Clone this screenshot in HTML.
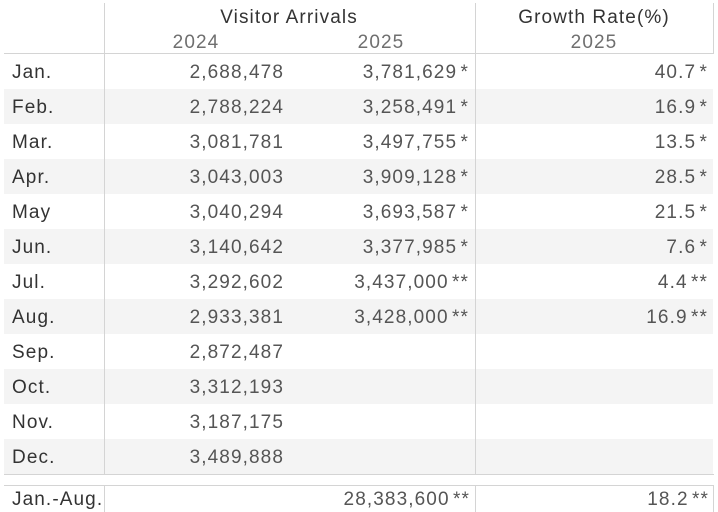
<!DOCTYPE html>
<html><head><meta charset="utf-8"><style>
html,body{margin:0;padding:0;background:#fff;}
body{width:718px;height:512px;position:relative;overflow:hidden;font-family:"Liberation Sans",Arial,sans-serif;}
.t{position:absolute;font-size:19px;line-height:19px;white-space:nowrap;letter-spacing:1.1px;}
.m{color:#333;left:12px;}
.n{color:#555;text-align:right;word-spacing:-3px;}
.h{color:#333;text-align:center;}
.y{color:#6f6f6f;text-align:center;}
.l{position:absolute;background:#d4d4d4;}
.s{position:absolute;background:#f4f4f4;left:4px;width:709px;height:35px;}
</style></head><body>
<div class="s" style="top:89px"></div>
<div class="s" style="top:159px"></div>
<div class="s" style="top:229px"></div>
<div class="s" style="top:299px"></div>
<div class="s" style="top:369px"></div>
<div class="s" style="top:439px"></div>
<div class="l" style="left:104px;top:3px;width:1px;height:471px"></div>
<div class="l" style="left:475px;top:3px;width:1px;height:471px"></div>
<div class="l" style="left:713px;top:3px;width:1px;height:50px"></div>
<div class="l" style="left:4px;top:53px;width:710px;height:1px"></div>
<div class="l" style="left:4px;top:474px;width:710px;height:1px"></div>
<div class="l" style="left:4px;top:485px;width:710px;height:1px"></div>
<div class="l" style="left:104px;top:485px;width:1px;height:27px"></div>
<div class="l" style="left:475px;top:485px;width:1px;height:27px"></div>
<div class="l" style="left:713px;top:485px;width:1px;height:27px"></div>
<div class="t h" style="left:189px;width:200px;top:8px">Visitor Arrivals</div>
<div class="t h" style="left:494px;width:200px;top:8px">Growth Rate(%)</div>
<div class="t y" style="left:146px;width:100px;top:33px">2024</div>
<div class="t y" style="left:331px;width:100px;top:33px">2025</div>
<div class="t y" style="left:544px;width:100px;top:33px">2025</div>
<div class="t m" style="top:63px">Jan.</div>
<div class="t m" style="top:98px">Feb.</div>
<div class="t m" style="top:133px">Mar.</div>
<div class="t m" style="top:168px">Apr.</div>
<div class="t m" style="top:203px">May</div>
<div class="t m" style="top:238px">Jun.</div>
<div class="t m" style="top:273px">Jul.</div>
<div class="t m" style="top:308px">Aug.</div>
<div class="t m" style="top:343px">Sep.</div>
<div class="t m" style="top:378px">Oct.</div>
<div class="t m" style="top:413px">Nov.</div>
<div class="t m" style="top:448px">Dec.</div>
<div class="t m" style="top:490px">Jan.-Aug.</div>
<div class="t n" style="right:434px;top:63px">2,688,478</div>
<div class="t n" style="right:434px;top:98px">2,788,224</div>
<div class="t n" style="right:434px;top:133px">3,081,781</div>
<div class="t n" style="right:434px;top:168px">3,043,003</div>
<div class="t n" style="right:434px;top:203px">3,040,294</div>
<div class="t n" style="right:434px;top:238px">3,140,642</div>
<div class="t n" style="right:434px;top:273px">3,292,602</div>
<div class="t n" style="right:434px;top:308px">2,933,381</div>
<div class="t n" style="right:434px;top:343px">2,872,487</div>
<div class="t n" style="right:434px;top:378px">3,312,193</div>
<div class="t n" style="right:434px;top:413px">3,187,175</div>
<div class="t n" style="right:434px;top:448px">3,489,888</div>
<div class="t n" style="right:249px;top:63px">3,781,629 *</div>
<div class="t n" style="right:249px;top:98px">3,258,491 *</div>
<div class="t n" style="right:249px;top:133px">3,497,755 *</div>
<div class="t n" style="right:249px;top:168px">3,909,128 *</div>
<div class="t n" style="right:249px;top:203px">3,693,587 *</div>
<div class="t n" style="right:249px;top:238px">3,377,985 *</div>
<div class="t n" style="right:249px;top:273px">3,437,000 **</div>
<div class="t n" style="right:249px;top:308px">3,428,000 **</div>
<div class="t n" style="right:248px;top:490px">28,383,600 **</div>
<div class="t n" style="right:10px;top:63px">40.7 *</div>
<div class="t n" style="right:10px;top:98px">16.9 *</div>
<div class="t n" style="right:10px;top:133px">13.5 *</div>
<div class="t n" style="right:10px;top:168px">28.5 *</div>
<div class="t n" style="right:10px;top:203px">21.5 *</div>
<div class="t n" style="right:10px;top:238px">7.6 *</div>
<div class="t n" style="right:10px;top:273px">4.4 **</div>
<div class="t n" style="right:10px;top:308px">16.9 **</div>
<div class="t n" style="right:9px;top:490px">18.2 **</div>
</body></html>
